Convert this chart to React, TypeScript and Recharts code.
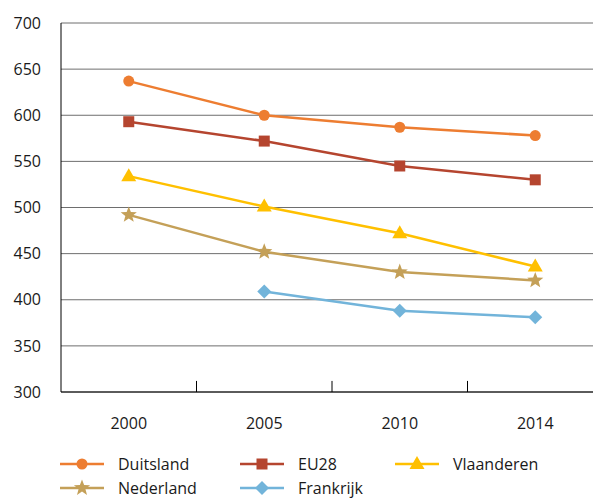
import React from "react";
import { LineChart, Line, XAxis, YAxis, CartesianGrid, ReferenceLine } from "recharts";

const years = ["2000", "2005", "2010", "2014"];
const duitsland = [637, 600, 587, 578];
const eu28 = [593, 572, 545, 530];
const vlaanderen = [534, 501, 472, 436];
const nederland = [492, 452, 430, 421];
const frankrijk: (number | null)[] = [null, 409, 388, 381];
const yTicks = [300, 350, 400, 450, 500, 550, 600, 650, 700];

const series = [
  { key: "Duitsland", values: duitsland, color: "#ED7D31", shape: "circle" },
  { key: "EU28", values: eu28, color: "#B5452F", shape: "square" },
  { key: "Vlaanderen", values: vlaanderen, color: "#FFC000", shape: "triangle" },
  { key: "Nederland", values: nederland, color: "#C4A058", shape: "star" },
  { key: "Frankrijk", values: frankrijk, color: "#72B4DA", shape: "diamond" },
];

const data = years.map((y, i) => {
  const row: any = { idx: i, year: y };
  series.forEach((s) => {
    row[s.key] = s.values[i];
  });
  return row;
});

const FONT = "'Open Sans', sans-serif";

function Marker({ cx, cy, shape, color }: { cx: number; cy: number; shape: string; color: string }) {
  if (shape === "circle") return <circle cx={cx} cy={cy} r={5.5} fill={color} />;
  if (shape === "square") return <rect x={cx - 5.5} y={cy - 5.5} width={11} height={11} fill={color} />;
  if (shape === "triangle")
    return <polygon points={`${cx},${cy - 8} ${cx - 7.5},${cy + 5} ${cx + 7.5},${cy + 5}`} fill={color} />;
  if (shape === "diamond")
    return <polygon points={`${cx},${cy - 7} ${cx + 7},${cy} ${cx},${cy + 7} ${cx - 7},${cy}`} fill={color} />;
  // star
  const pts: string[] = [];
  for (let i = 0; i < 10; i++) {
    const r = i % 2 === 0 ? 8.5 : 3.6;
    const a = -Math.PI / 2 + (i * Math.PI) / 5;
    pts.push(`${cx + r * Math.cos(a)},${cy + r * Math.sin(a)}`);
  }
  return <polygon points={pts.join(" ")} fill={color} />;
}

const legendCols = [52, 232, 387];
const legendRows = [456, 480];

export default function App() {
  return (
    <div style={{ position: "relative", width: 593, height: 490, overflow: "hidden", fontFamily: FONT }}>
      <LineChart width={595} height={430} data={data} margin={{ top: 15, right: 0, bottom: 0, left: 0 }}>
        <CartesianGrid vertical={false} stroke="#6e6e6e" strokeWidth={1} />
        <XAxis
          dataKey="idx"
          type="number"
          domain={[-0.5, 3.5]}
          ticks={[0, 1, 2, 3]}
          tickFormatter={(v: number) => years[v]}
          axisLine={{ stroke: "#000", strokeWidth: 1 }}
          tickLine={false}
          tickSize={0}
          tickMargin={26}
          height={46}
          tick={{ fill: "#1a1a1a", fontSize: 16, fontFamily: FONT }}
          interval={0}
        />
        <YAxis
          domain={[300, 700]}
          ticks={yTicks}
          width={53}
          axisLine={{ stroke: "#000", strokeWidth: 1 }}
          tickLine={false}
          tickSize={0}
          tickMargin={20}
          tick={{ fill: "#1a1a1a", fontSize: 16, fontFamily: FONT }}
          interval={0}
        />
        {[0.5, 1.5, 2.5].map((x) => (
          <ReferenceLine
            key={x}
            segment={[
              { x, y: 300 },
              { x, y: 312 },
            ]}
            stroke="#000"
            strokeWidth={1}
            ifOverflow="visible"
          />
        ))}
        {series.map((s) => (
          <Line
            key={s.key}
            dataKey={s.key}
            stroke={s.color}
            strokeWidth={2.5}
            isAnimationActive={false}
            connectNulls={false}
            dot={(p: any) =>
              p.cx == null || p.cy == null || p.value == null ? (
                <g key={`${s.key}-${p.index}`} />
              ) : (
                <Marker key={`${s.key}-${p.index}`} cx={p.cx} cy={p.cy} shape={s.shape} color={s.color} />
              )
            }
            activeDot={false}
          />
        ))}
      </LineChart>
      {series.map((s, i) => {
        const col = legendCols[i % 3];
        const row = legendRows[Math.floor(i / 3)];
        return (
          <div
            key={s.key}
            style={{
              position: "absolute",
              left: col,
              top: row - 10,
              height: 20,
              display: "flex",
              alignItems: "center",
            }}
          >
            <svg width={44} height={20}>
              <line x1={0} y1={10} x2={44} y2={10} stroke={s.color} strokeWidth={2.5} />
              <Marker cx={22} cy={10} shape={s.shape} color={s.color} />
            </svg>
            <span style={{ marginLeft: 14, fontSize: 16, color: "#1a1a1a", lineHeight: "20px" }}>{s.key}</span>
          </div>
        );
      })}
    </div>
  );
}
